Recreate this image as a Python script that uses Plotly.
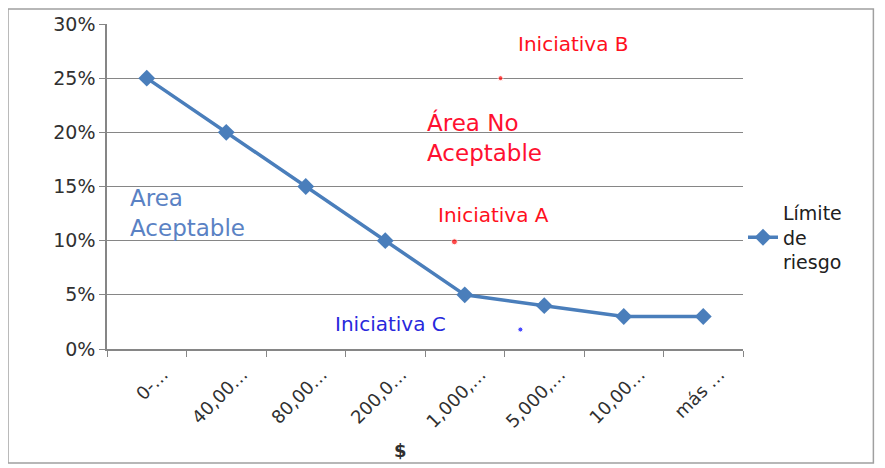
import plotly.graph_objects as go

# categories on the x axis (truncated labels as in the original)
tramos = ["0-…", "40,00…", "80,00…", "200,0…", "1,000,…", "5,000,…", "10,00…", "más …"]
limite_riesgo = [0.25, 0.20, 0.15, 0.10, 0.05, 0.04, 0.03, 0.03]

# initiatives, positioned in category units
iniciativas = ["Iniciativa A", "Iniciativa B", "Iniciativa C"]
ini_x = [3.87, 4.45, 4.70]
ini_y = [0.099, 0.25, 0.018]
ini_color = ["#FF0000", "#FF0000", "#0000FF"]

FONT = "DejaVu Sans"
LINE_BLUE = "#4A7EBB"
x_pos = list(range(len(tramos)))

fig = go.Figure()

fig.add_trace(go.Scatter(
    x=x_pos, y=limite_riesgo,
    name="Límite<br>de<br>riesgo",
    mode="lines+markers",
    line=dict(color=LINE_BLUE, width=3.5),
    marker=dict(symbol="diamond", size=13, color=LINE_BLUE),
))

fig.add_trace(go.Scatter(
    x=ini_x, y=ini_y,
    mode="markers",
    marker=dict(size=[6, 5, 5], color=ini_color),
    showlegend=False,
))

# text labels
fig.add_annotation(x=4.64, y=0.2815, text="Iniciativa B", font=dict(color="#FF1020", size=20))
fig.add_annotation(x=3.635, y=0.1237, text="Iniciativa A", font=dict(color="#FF1020", size=20))
fig.add_annotation(x=2.34, y=0.0231, text="Iniciativa C", font=dict(color="#2828DC", size=20))
fig.add_annotation(x=3.497, y=0.1948, text="Área No<br>Aceptable", align="left",
                   font=dict(color="#FF1030", size=23))
fig.add_annotation(x=-0.239, y=0.1251, text="Area<br>Aceptable", align="left",
                   font=dict(color="#5A82C4", size=23))
fig.update_annotations(showarrow=False, xanchor="left", yanchor="middle", xref="x", yref="y")
# x axis title
fig.add_annotation(x=0.462, y=-0.311, xref="paper", yref="paper", text="<b>$</b>",
                   xanchor="center", yanchor="middle",
                   showarrow=False, font=dict(size=18, color="#303030"))

# outer frame
fig.add_shape(type="rect", xref="paper", yref="paper",
              x0=-0.1557, x1=1.205, y0=-0.3508, y1=1.046,
              line=dict(color="#A0A0A0", width=1.5))

fig.update_layout(
    width=885, height=468,
    margin=dict(l=99, r=150, t=16, b=127),
    paper_bgcolor="white", plot_bgcolor="white",
    font=dict(family=FONT, color="#303030"),
    legend=dict(x=1.0, y=0.478, xanchor="left", yanchor="top",
                font=dict(size=19, color="#202020"), tracegroupgap=0,
                itemwidth=30),
    xaxis=dict(
        range=[-0.5, 7.5], tickvals=x_pos, ticktext=tramos, tickangle=-45,
        ticks="", showgrid=False, zeroline=False, automargin=False,
        showline=True, linecolor="#868686", linewidth=1.5,
        tickfont=dict(size=18, color="#303030"),
        ticklabelshift=16, ticklabelstandoff=6,
        minor=dict(tickvals=[i - 0.5 for i in range(len(tramos) + 1)],
                   ticks="outside", ticklen=6, tickcolor="#868686", showgrid=False),
    ),
    yaxis=dict(
        range=[0, 0.30], dtick=0.05, tickformat=".0%", automargin=False,
        showgrid=True, gridcolor="#868686", gridwidth=1.2,
        zeroline=False, showline=True, linecolor="#868686", linewidth=1.5,
        ticks="outside", ticklen=6, tickcolor="#868686",
        tickfont=dict(size=19, color="#303030"),
    ),
)

fig.write_html("out.html")
